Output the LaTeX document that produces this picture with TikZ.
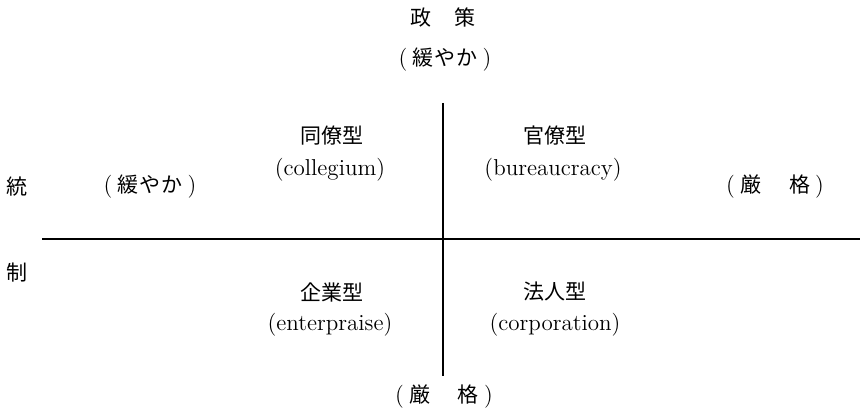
\documentclass[tikz,border=0pt]{standalone}
\usepackage{fontspec}
\newfontfamily\jp{Noto Sans CJK JP}
\usetikzlibrary{positioning}

% Japanese text inside parentheses, spread out
\newcommand{\jpar}[1]{(\hspace{2.5pt}{\jp\fontsize{10.5}{12}\selectfont #1}\hspace{2.5pt})}

\begin{document}
\begin{tikzpicture}[x=0.5pt,y=-0.5pt]
  \useasboundingbox (0,0) rectangle (862,411);

  % axes
  \coordinate (ptop) at (443,103);
  \coordinate (pbot) at (443,376);
  \coordinate (cleft) at (42,239);
  \coordinate (cright) at (860,239);
  \draw [line width=0.9pt] (cleft) -- (cright);
  \draw [line width=0.7pt] (ptop) -- (pbot);

  \begin{scope}[every node/.style={inner sep=1pt, font=\fontsize{11.5}{13}\selectfont}, jtext/.style={font=\jp\fontsize{10.5}{12}\selectfont}]
    \node [jtext] (policy) at (443,18) {政\hspace{12pt}策};
    \node (psoft) at (445,60) {\jpar{緩\hspace{0.6pt}や\hspace{0.6pt}か}};
    \node (pstrict) at (444,397) {\jpar{厳\hspace{14pt}格}};

    \node [jtext] (ctrlA) at (17,187) {統};
    \node [jtext] (ctrlB) at (17,273) {制};
    \node (csoft) at (150,187) {\jpar{緩\hspace{0.6pt}や\hspace{0.6pt}か}};
    \node (cstrict) at (775,187) {\jpar{厳\hspace{14pt}格}};

    \node [jtext] (colj) at (332,136) {同僚型};
    \node (cole) at (330,170) {(collegium)};
    \node [jtext] (burj) at (555,136) {官僚型};
    \node (bure) at (553,170) {(bureaucracy)};
    \node [jtext] (entj) at (332,292) {企業型};
    \node (ente) at (330,325) {(enterpraise)};
    \node [jtext] (corj) at (555,292) {法人型};
    \node (core) at (555,325) {(corporation)};
  \end{scope}
\end{tikzpicture}
\end{document}
